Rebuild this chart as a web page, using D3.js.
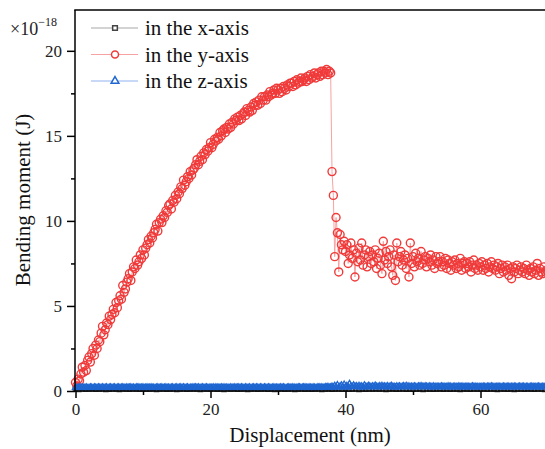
<!DOCTYPE html>
<html>
<head>
<meta charset="utf-8">
<script src="https://cdn.jsdelivr.net/npm/d3@7"></script>
<style>
  body { margin: 0; background: #fff; }
  svg { display: block; }
  text { font-family: "Liberation Serif", "DejaVu Serif", "Times New Roman", serif; }
</style>
</head>
<body>
<svg id="chart"></svg>
<script>
// sampling step of the displacement (nm)
const stepYZ = 0.2;
const stepX = 0.5;
const seriesNames = ["in the x-axis", "in the y-axis", "in the z-axis"];
const xTicks = [0, 20, 40, 60];
const xMinor = [10, 30, 50];
const yTicks = [0, 5, 10, 15, 20];
const yMinor = [2.5, 7.5, 12.5, 17.5];

// bending moment in the y-axis (x10^-18 J), one value every 0.2 nm
const momentY = [
  0.5, 0.3, 0.7, 0.6, 1.0, 1.4, 1.1, 1.5, 1.2, 1.8,
  2.0, 1.7, 2.2, 2.5, 2.1, 2.7, 2.5, 3.0, 2.9, 3.4,
  3.8, 3.3, 3.6, 4.0, 3.9, 4.4, 4.2, 4.5, 4.8, 4.6,
  5.2, 4.9, 5.3, 5.6, 5.4, 6.2, 5.8, 6.0, 6.4, 6.6,
  6.9, 6.5, 7.0, 7.3, 7.2, 7.7, 7.4, 7.6, 8.0, 7.8,
  8.3, 8.0, 8.4, 8.6, 8.9, 8.7, 9.1, 9.0, 9.3, 9.5,
  9.8, 9.4, 9.9, 10.1, 9.9, 10.3, 10.2, 10.6, 10.5, 10.9,
  11.0, 10.7, 11.2, 11.1, 11.5, 11.3, 11.7, 11.6, 12.0, 11.9,
  12.4, 12.1, 12.3, 12.6, 12.5, 12.9, 12.7, 13.0, 13.1, 13.3,
  13.6, 13.3, 13.5, 13.8, 13.6, 14.0, 13.9, 14.2, 14.1, 14.3,
  14.6, 14.3, 14.5, 14.8, 14.7, 14.9, 14.8, 15.2, 15.0, 15.3,
  15.4, 15.2, 15.5, 15.4, 15.7, 15.5, 15.8, 15.7, 16.0, 15.9,
  16.1, 15.9, 16.2, 16.0, 16.3, 16.4, 16.2, 16.6, 16.5, 16.4,
  16.7, 16.5, 16.9, 16.8, 17.0, 16.8, 17.1, 16.9, 17.3, 17.1,
  17.3, 17.1, 17.4, 17.3, 17.6, 17.4, 17.5, 17.7, 17.5, 17.8,
  17.7, 17.5, 17.8, 17.6, 17.9, 17.8, 17.7, 18.0, 17.9, 18.1,
  18.1, 17.9, 18.2, 18.0, 18.3, 18.1, 18.2, 18.4, 18.2, 18.3,
  18.4, 18.2, 18.5, 18.3, 18.6, 18.4, 18.5, 18.7, 18.4, 18.6,
  18.7, 18.5, 18.8, 18.6, 18.8, 18.7, 18.9, 18.6, 18.8, 18.7,
  12.9, 11.5, 7.9, 10.2, 9.3, 7.0, 9.2, 8.6, 8.3, 8.8,
  8.2, 8.6, 7.5, 8.0, 8.7, 7.8, 8.3, 6.7, 8.1, 7.6,
  8.4, 7.7, 8.7, 7.4, 8.0, 8.3, 7.3, 7.9, 8.2, 7.5,
  8.0, 7.6, 8.3, 7.2, 7.8, 8.1, 7.4, 6.9, 8.8, 7.7,
  8.2, 7.5, 7.9, 8.3, 7.3, 6.8, 8.0, 6.5, 8.7, 7.6,
  7.9, 8.2, 7.4, 7.7, 8.0, 7.2, 7.8, 6.7, 8.7, 7.5,
  7.9, 7.3, 8.1, 7.6, 7.8, 7.4, 8.2, 7.5, 7.7, 7.9,
  7.3, 7.8, 7.6, 8.0, 7.4, 7.7, 7.2, 7.9, 7.5, 7.6,
  7.9, 7.3, 7.6, 7.4, 7.8, 7.2, 7.7, 7.5, 7.1, 7.6,
  7.4, 7.7, 7.2, 7.5, 7.3, 7.8, 7.1, 7.5, 7.6, 7.2,
  7.5, 7.3, 7.6, 7.0, 7.4, 7.7, 7.2, 7.4, 7.1, 7.5,
  7.3, 7.6, 7.1, 7.4, 7.2, 7.5, 7.0, 7.3, 7.6, 7.2,
  7.4, 7.1, 7.3, 7.5, 6.9, 7.2, 7.4, 7.0, 7.3, 7.1,
  7.4, 6.8, 7.2, 6.6, 7.3, 7.0, 7.2, 7.4, 6.9, 7.1,
  7.3, 7.0, 7.2, 6.9, 7.4, 7.1, 6.8, 7.2, 7.0, 7.3,
  6.9, 7.1, 7.5, 6.8, 7.2, 7.0, 6.9, 7.3, 7.0, 7.1,
  7.0
];

// bending moment in the z-axis, same 0.2 nm grid
const momentZ = [
  0.20, 0.18, 0.21, 0.19, 0.20, 0.22, 0.19, 0.20, 0.21, 0.18,
  0.19, 0.21, 0.20, 0.18, 0.22, 0.20, 0.19, 0.21, 0.20, 0.19,
  0.21, 0.19, 0.20, 0.22, 0.18, 0.20, 0.21, 0.19, 0.20, 0.21,
  0.18, 0.20, 0.21, 0.19, 0.20, 0.22, 0.20, 0.18, 0.21, 0.20,
  0.20, 0.21, 0.19, 0.20, 0.18, 0.21, 0.20, 0.22, 0.19, 0.20,
  0.21, 0.18, 0.20, 0.21, 0.19, 0.20, 0.22, 0.19, 0.20, 0.18,
  0.20, 0.22, 0.19, 0.20, 0.21, 0.18, 0.20, 0.21, 0.19, 0.20,
  0.19, 0.20, 0.21, 0.18, 0.20, 0.22, 0.19, 0.20, 0.21, 0.19,
  0.22, 0.19, 0.20, 0.21, 0.18, 0.20, 0.19, 0.21, 0.20, 0.22,
  0.20, 0.21, 0.18, 0.20, 0.22, 0.19, 0.20, 0.21, 0.19, 0.20,
  0.19, 0.20, 0.22, 0.18, 0.21, 0.20, 0.19, 0.20, 0.22, 0.19,
  0.21, 0.19, 0.20, 0.20, 0.18, 0.22, 0.20, 0.19, 0.21, 0.20,
  0.20, 0.22, 0.19, 0.21, 0.20, 0.18, 0.21, 0.20, 0.19, 0.22,
  0.18, 0.20, 0.21, 0.19, 0.22, 0.20, 0.19, 0.21, 0.20, 0.18,
  0.21, 0.20, 0.19, 0.22, 0.20, 0.18, 0.20, 0.21, 0.19, 0.20,
  0.20, 0.19, 0.21, 0.20, 0.22, 0.19, 0.18, 0.20, 0.21, 0.20,
  0.19, 0.21, 0.20, 0.18, 0.20, 0.22, 0.21, 0.19, 0.20, 0.21,
  0.22, 0.20, 0.19, 0.21, 0.20, 0.19, 0.22, 0.20, 0.18, 0.21,
  0.20, 0.21, 0.22, 0.19, 0.20, 0.23, 0.21, 0.24, 0.20, 0.22,
  0.26, 0.22, 0.31, 0.24, 0.35, 0.21, 0.28, 0.33, 0.23, 0.38,
  0.25, 0.30, 0.22, 0.42, 0.27, 0.24, 0.33, 0.26, 0.29, 0.23,
  0.31, 0.25, 0.28, 0.22, 0.34, 0.26, 0.24, 0.30, 0.27, 0.23,
  0.28, 0.24, 0.32, 0.26, 0.23, 0.29, 0.25, 0.31, 0.24, 0.27,
  0.25, 0.29, 0.23, 0.27, 0.30, 0.24, 0.26, 0.22, 0.28, 0.25,
  0.27, 0.23, 0.26, 0.29, 0.24, 0.31, 0.25, 0.27, 0.23, 0.26,
  0.24, 0.28, 0.25, 0.23, 0.27, 0.26, 0.29, 0.24, 0.25, 0.27,
  0.26, 0.23, 0.27, 0.25, 0.24, 0.28, 0.23, 0.26, 0.25, 0.24,
  0.25, 0.27, 0.24, 0.26, 0.23, 0.25, 0.27, 0.24, 0.26, 0.23,
  0.24, 0.26, 0.25, 0.23, 0.27, 0.24, 0.25, 0.26, 0.23, 0.25,
  0.26, 0.24, 0.23, 0.25, 0.27, 0.24, 0.26, 0.23, 0.25, 0.24,
  0.23, 0.25, 0.26, 0.24, 0.23, 0.26, 0.24, 0.25, 0.27, 0.24,
  0.25, 0.23, 0.24, 0.26, 0.25, 0.23, 0.24, 0.26, 0.24, 0.25,
  0.24, 0.26, 0.23, 0.25, 0.24, 0.26, 0.25, 0.23, 0.24, 0.26,
  0.25, 0.24, 0.26, 0.23, 0.25, 0.24, 0.23, 0.25, 0.26, 0.24,
  0.23, 0.25, 0.24, 0.26, 0.24, 0.23, 0.25, 0.24, 0.26, 0.25,
  0.24
];

// bending moment in the x-axis, one value every 0.5 nm (hidden under z)
const momentX = [
  0.12, 0.10, 0.13, 0.11, 0.12, 0.14, 0.11, 0.12, 0.13, 0.10,
  0.11, 0.13, 0.12, 0.10, 0.14, 0.12, 0.11, 0.13, 0.12, 0.11,
  0.13, 0.11, 0.12, 0.14, 0.10, 0.12, 0.13, 0.11, 0.12, 0.13,
  0.10, 0.12, 0.13, 0.11, 0.12, 0.14, 0.12, 0.10, 0.13, 0.12,
  0.12, 0.13, 0.11, 0.12, 0.10, 0.13, 0.12, 0.14, 0.11, 0.12,
  0.13, 0.10, 0.12, 0.13, 0.11, 0.12, 0.14, 0.11, 0.12, 0.10,
  0.12, 0.14, 0.11, 0.12, 0.13, 0.10, 0.12, 0.13, 0.11, 0.12,
  0.11, 0.12, 0.13, 0.10, 0.12, 0.14, 0.11, 0.12, 0.13, 0.11,
  0.14, 0.11, 0.12, 0.13, 0.10, 0.12, 0.11, 0.13, 0.12, 0.14,
  0.12, 0.13, 0.10, 0.12, 0.14, 0.11, 0.12, 0.13, 0.11, 0.12,
  0.11, 0.12, 0.14, 0.10, 0.13, 0.12, 0.11, 0.12, 0.14, 0.11,
  0.13, 0.11, 0.12, 0.12, 0.10, 0.14, 0.12, 0.11, 0.13, 0.12,
  0.12, 0.14, 0.11, 0.13, 0.12, 0.10, 0.13, 0.12, 0.11, 0.14,
  0.10, 0.12, 0.13, 0.11, 0.14, 0.12, 0.11, 0.13, 0.12, 0.10,
  0.12
];

const W = 545, H = 449;
const svg = d3.select("#chart").attr("width", W).attr("height", H);

const plotLeft = 75.5, plotTop = 10, plotBottom = 391;
const x = d3.scaleLinear().domain([0, 72]).range([plotLeft, plotLeft + 72 * 6.75]);
const y = d3.scaleLinear().domain([0, 22.4]).range([plotBottom, plotTop]);

const toPts = (arr, step) => arr.map((v, i) => ({ d: i * step, m: v }));
const dataX = toPts(momentX, stepX);
const dataY = toPts(momentY, stepYZ);
const dataZ = toPts(momentZ, stepYZ);

const line = d3.line().x(d => x(d.d)).y(d => y(d.m));

const plot = svg.append("g");

// x-axis series (grey squares)
plot.append("path").datum(dataX)
  .attr("d", line).attr("fill", "none")
  .attr("stroke", "#a8a8a8").attr("stroke-width", 1);
plot.selectAll(".sq").data(dataX).enter().append("path")
  .attr("transform", d => `translate(${x(d.d)},${y(d.m)})`)
  .attr("d", d3.symbol(d3.symbolSquare, 20)())
  .attr("fill", "none").attr("stroke", "#444").attr("stroke-width", 1.2);

// y-axis series (red circles)
plot.append("path").datum(dataY)
  .attr("d", line).attr("fill", "none")
  .attr("stroke", "#f7a3a3").attr("stroke-width", 1);
plot.selectAll(".ci").data(dataY).enter().append("circle")
  .attr("cx", d => x(d.d)).attr("cy", d => y(d.m)).attr("r", 4)
  .attr("fill", "none").attr("stroke", "#f03a3a").attr("stroke-width", 1.4);

// z-axis series (blue triangles)
plot.append("path").datum(dataZ)
  .attr("d", line).attr("fill", "none")
  .attr("stroke", "#8fb4ee").attr("stroke-width", 1);
plot.selectAll(".tr").data(dataZ).enter().append("path")
  .attr("transform", d => `translate(${x(d.d)},${y(d.m)})`)
  .attr("d", d3.symbol(d3.symbolTriangle, 16)())
  .attr("fill", "none").attr("stroke", "#1f66d1").attr("stroke-width", 1.3);

// axes
function styleAxis(g) {
  g.attr("font-family", null).attr("font-size", null);
  g.select(".domain").remove();
  g.selectAll(".tick line").attr("stroke", "#000").attr("stroke-width", 1.5);
  g.selectAll(".tick text").attr("fill", "#222").style("font-size", "17px");
}

svg.append("g").attr("transform", `translate(0,${plotBottom})`)
  .call(d3.axisBottom(x).tickValues(xTicks).tickSize(7).tickPadding(5).tickFormat(d3.format("d")))
  .call(styleAxis);
svg.append("g").attr("transform", `translate(0,${plotBottom})`)
  .call(d3.axisBottom(x).tickValues(xMinor).tickSize(4).tickFormat(""))
  .call(styleAxis);
svg.append("g").attr("transform", `translate(${plotLeft - 0.5},0)`)
  .call(d3.axisLeft(y).tickValues(yTicks).tickSize(8).tickPadding(5).tickFormat(d3.format("d")))
  .call(styleAxis);
svg.append("g").attr("transform", `translate(${plotLeft - 0.5},0)`)
  .call(d3.axisLeft(y).tickValues(yMinor).tickSize(4).tickFormat(""))
  .call(styleAxis);

// frame lines
svg.append("line").attr("x1", plotLeft - 0.5).attr("x2", plotLeft - 0.5)
  .attr("y1", plotTop).attr("y2", plotBottom + 0.75)
  .attr("stroke", "#000").attr("stroke-width", 1.5);
svg.append("line").attr("x1", plotLeft - 1.25).attr("x2", W)
  .attr("y1", plotBottom).attr("y2", plotBottom)
  .attr("stroke", "#000").attr("stroke-width", 1.5);
svg.append("line").attr("x1", plotLeft - 1.25).attr("x2", W)
  .attr("y1", plotTop).attr("y2", plotTop)
  .attr("stroke", "#000").attr("stroke-width", 1.5);

// exponent label
const expo = svg.append("text").attr("x", 10).attr("y", 35)
  .style("font-size", "18px").attr("fill", "#222");
expo.append("tspan").text("×10");
expo.append("tspan").attr("dy", -9).style("font-size", "12px").text("−18");

// axis titles
svg.append("text")
  .attr("x", 310).attr("y", 442).attr("text-anchor", "middle")
  .style("font-size", "21px").attr("fill", "#111")
  .text("Displacement (nm)");
svg.append("text")
  .attr("transform", "translate(30,200) rotate(-90)").attr("text-anchor", "middle")
  .style("font-size", "21px").attr("fill", "#111")
  .text("Bending moment (J)");

// legend
const legendRows = [
  { name: seriesNames[0], line: "#a8a8a8", mark: "#444", sym: d3.symbolSquare, size: 22 },
  { name: seriesNames[1], line: "#f7a3a3", mark: "#f03a3a", sym: null },
  { name: seriesNames[2], line: "#8fb4ee", mark: "#1f66d1", sym: d3.symbolTriangle, size: 26 }
];
const legend = svg.append("g");
legendRows.forEach((r, i) => {
  const ly = 28 + i * 26.5;
  legend.append("line").attr("x1", 91).attr("x2", 138).attr("y1", ly).attr("y2", ly)
    .attr("stroke", r.line).attr("stroke-width", 1.2);
  if (r.sym) {
    legend.append("path").attr("transform", `translate(115,${ly})`)
      .attr("d", d3.symbol(r.sym, r.size)())
      .attr("fill", "#fff").attr("stroke", r.mark).attr("stroke-width", 1.5);
  } else {
    legend.append("circle").attr("cx", 115).attr("cy", ly).attr("r", 3.5)
      .attr("fill", "#fff").attr("stroke", r.mark).attr("stroke-width", 1.5);
  }
  legend.append("text").attr("x", 145).attr("y", ly + 7)
    .style("font-size", "21px").attr("fill", "#111")
    .text(r.name);
});
</script>
</body>
</html>
